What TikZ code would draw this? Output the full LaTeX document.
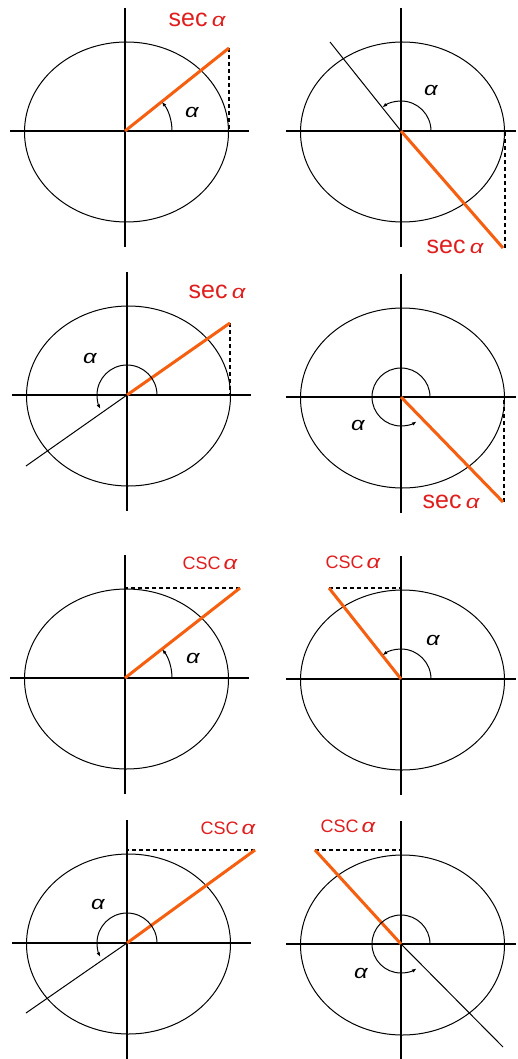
\documentclass[tikz,border=0pt]{standalone}
\usepackage{fontspec}
\setmainfont{Liberation Sans}
\usetikzlibrary{arrows.meta,calc}
\definecolor{ora}{RGB}{245,95,15}
\definecolor{lab}{RGB}{225,30,30}
\tikzset{
  axisline/.style={line width=1.3pt,black},
  circline/.style={line width=1pt,black},
  segline/.style={line width=3pt,ora},
  thinline/.style={line width=1pt,black},
  tanline/.style={line width=1.2pt,black,dash pattern=on 4pt off 3pt},
  angline/.style={line width=1pt,black,-{Latex[length=5pt,width=3.5pt]}},
  fnlabel/.style={text=lab,inner sep=0pt},
  alabel/.style={inner sep=0pt,xscale=1.25,font=\fontsize{19}{19}\selectfont\itshape},
}
\newcommand{\myalpha}{\scalebox{1.25}[1]{\fontsize{19}{19}\selectfont\itshape α}}
\newcommand{\secl}{\fontsize{25}{25}\selectfont sec\,\myalpha}
\newcommand{\cscl}{\fontsize{18}{18}\selectfont CSC\,\myalpha}
% #1 centre name, #2 right extent of horizontal axis
\newcommand{\mybasepanel}[2]{%
  \draw[circline] ($(#1)+(1.5,-1)$) ellipse [x radius=102, y radius=90];
  \draw[axisline] ($(#1)+(-115,0)$) -- ($(#1)+(#2,0)$);
  \draw[axisline] ($(#1)+(0,123)$) -- ($(#1)+(0,-116)$);
}
\begin{document}
\begin{tikzpicture}[x=1pt,y=1pt]
\useasboundingbox (0,0) rectangle (517,-1059);
\fill[white] (0,0) rectangle (517,-1059);

% ---------- panel 1 ----------
\coordinate (O1) at (125,-131);
\mybasepanel{O1}{124}
\coordinate (P1) at ($(O1)+(104,83)$);
\coordinate (F1) at ($(O1)+(104,0)$);
\draw[tanline] (P1) -- (F1);
\draw[segline] (O1) -- (P1);
\draw[angline] ($(O1)+(47,0)$) arc[start angle=0,end angle=38.6,radius=47];
\node[fnlabel] (s1) at (197,-20) {\secl};
\node[alabel] (a1) at (192,-112) {α};

% ---------- panel 2 ----------
\coordinate (O2) at (401,-131);
\mybasepanel{O2}{115}
\coordinate (P2) at ($(O2)+(102,-117)$);
\coordinate (F2) at ($(O2)+(104,0)$);
\coordinate (T2) at ($(O2)+(-71,89)$);
\draw[tanline] (P2 -| F2) -- (F2);
\draw[thinline] (O2) -- (T2);
\draw[segline] (O2) -- (P2);
\draw[angline] ($(O2)+(30,0)$) arc[start angle=0,end angle=128.6,radius=30];
\node[fnlabel] (s2) at (455,-247) {\secl};
\node[alabel] (a2) at (431,-90) {α};

% ---------- panel 3 ----------
\coordinate (O3) at (127,-395);
\mybasepanel{O3}{124}
\coordinate (P3) at ($(O3)+(103,72)$);
\coordinate (F3) at ($(O3)+(103,0)$);
\coordinate (T3) at ($(O3)+(-101,-71)$);
\draw[tanline] (P3) -- (F3);
\draw[thinline] (O3) -- (T3);
\draw[segline] (O3) -- (P3);
\draw[angline] ($(O3)+(30,0)$) arc[start angle=0,end angle=208,radius=30];
\node[fnlabel] (s3) at (217,-292) {\secl};
\node[alabel] (a3) at (90,-358) {α};

% ---------- panel 4 ----------
\coordinate (O4) at (401,-397);
\mybasepanel{O4}{115}
\coordinate (P4) at ($(O4)+(102,-105)$);
\coordinate (F4) at ($(O4)+(103,0)$);
\draw[tanline] (P4 -| F4) -- (F4);
\draw[segline] (O4) -- (P4);
\draw[angline] ($(O4)+(29,0)$) arc[start angle=0,end angle=303,radius=29];
\node[fnlabel] (s4) at (451,-502) {\secl};
\node[alabel] (a4) at (358,-425) {α};

% ---------- panel 5 ----------
\coordinate (O5) at (125,-678);
\mybasepanel{O5}{124}
\coordinate (P5) at ($(O5)+(115,90)$);
\coordinate (F5) at ($(O5)+(0,90)$);
\draw[tanline] (P5) -- (F5);
\draw[segline] (O5) -- (P5);
\draw[angline] ($(O5)+(47,0)$) arc[start angle=0,end angle=38,radius=47];
\node[fnlabel] (s5) at (210,-563) {\cscl};
\node[alabel] (a5) at (193,-658) {α};

% ---------- panel 6 ----------
\coordinate (O6) at (401,-679);
\mybasepanel{O6}{115}
\coordinate (P6) at ($(O6)+(-72,91)$);
\coordinate (F6) at ($(O6)+(0,91)$);
\draw[tanline] (P6) -- (F6);
\draw[segline] (O6) -- (P6);
\draw[angline] ($(O6)+(30,0)$) arc[start angle=0,end angle=128,radius=30];
\node[fnlabel] (s6) at (353,-562) {\cscl};
\node[alabel] (a6) at (433,-640) {α};

% ---------- panel 7 ----------
\coordinate (O7) at (127,-943);
\mybasepanel{O7}{124}
\coordinate (P7) at ($(O7)+(128,93)$);
\coordinate (F7) at ($(O7)+(0,93)$);
\coordinate (T7) at ($(O7)+(-101,-70)$);
\draw[tanline] (P7) -- (F7);
\draw[thinline] (O7) -- (T7);
\draw[segline] (O7) -- (P7);
\draw[angline] ($(O7)+(30,0)$) arc[start angle=0,end angle=208,radius=30];
\node[fnlabel] (s7) at (228,-828) {\cscl};
\node[alabel] (a7) at (98,-904) {α};

% ---------- panel 8 ----------
\coordinate (O8) at (401,-944);
\mybasepanel{O8}{115}
\coordinate (P8) at ($(O8)+(-86,94)$);
\coordinate (F8) at ($(O8)+(0,94)$);
\coordinate (T8) at ($(O8)+(102,-103)$);
\draw[tanline] (P8) -- (F8);
\draw[thinline] (O8) -- (T8);
\draw[segline] (O8) -- (P8);
\draw[angline] ($(O8)+(29,0)$) arc[start angle=0,end angle=303,radius=29];
\node[fnlabel] (s8) at (348,-826) {\cscl};
\node[alabel] (a8) at (361,-973) {α};
\end{tikzpicture}
\end{document}
